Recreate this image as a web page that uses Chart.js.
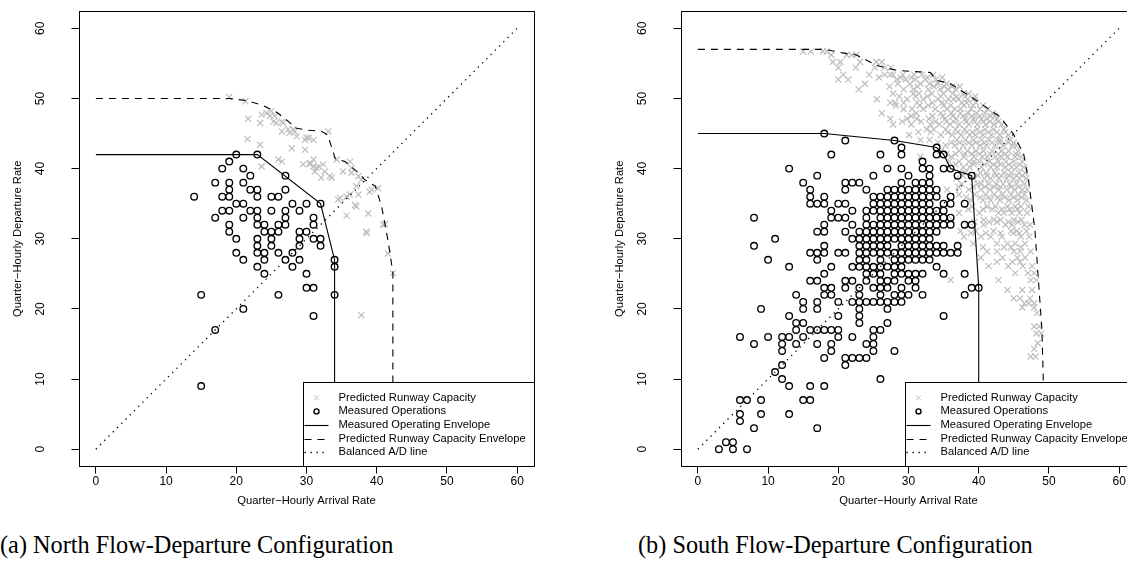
<!DOCTYPE html>
<html><head><meta charset="utf-8">
<script src="https://cdn.jsdelivr.net/npm/chart.js@4.4.1/dist/chart.umd.min.js"></script>
<style>
html,body{margin:0;padding:0;width:1127px;height:580px;overflow:hidden;background:#fff;}
.cv{position:absolute;top:0;}
.cap{position:absolute;top:531px;line-height:28px;font-family:"Liberation Serif","Times New Roman",serif;font-size:24.3px;white-space:nowrap;color:#000;}
</style></head><body>
<canvas id="north" class="cv" width="563" height="520" style="left:0px"></canvas>
<canvas id="south" class="cv" width="563" height="520" style="left:602px"></canvas>
<div class="cap" style="left:0px">(a) North Flow-Departure Configuration</div>
<div class="cap" style="left:638px">(b) South Flow-Departure Configuration</div>
<script>
// ---------- shared axis / legend data ----------
const xTicks = [0, 10, 20, 30, 40, 50, 60];
const yTicks = [0, 10, 20, 30, 40, 50, 60];
const axisMin = -2.4, axisMax = 62.4;
const legendLabels = ['Predicted Runway Capacity', 'Measured Operations', 'Measured Operating Envelope', 'Predicted Runway Capacity Envelope', 'Balanced A/D line'];
const xTitle = 'Quarter\u2212Hourly Arrival Rate';
const yTitle = 'Quarter\u2212Hourly Departure Rate';
const balancedLine = [[0, 0], [60, 60]];

// ---------- (a) North flow ----------
const northEnvelopeMeasured = [[0, 42], [23, 42], [32, 35], [34, 27], [34, 0]];
const northEnvelopePredicted = [[0, 50], [19, 50], [21.5, 49.7], [23.8, 49], [25.8, 48], [27.6, 46.6], [28.3, 45.8], [30, 45.5], [32.2, 45.3], [33, 44.8], [33.6, 43], [34.1, 41.4], [35.5, 41], [37.4, 39.4], [38.3, 38.4], [39.8, 37.5], [40.7, 34.6], [41.6, 29.8], [42.3, 25.2], [42.3, 0]];
// rows: [departures, [arrivals...]]
const northMeasuredRows = [
  [42, [20, 23]], [41, [19]], [40, [18, 21]], [39, [22, 27]], [38, [17, 19, 21]],
  [37, [19, 22, 23, 27]], [36, [14, 18, 19, 23, 25, 26]], [35, [20, 21, 28, 30, 32]],
  [34, [18, 19, 22, 23, 25, 27, 29]], [33, [17, 21, 23, 27, 31]], [32, [19, 23, 24, 26, 27, 31]],
  [31, [19, 24, 25, 26, 29, 30]], [30, [20, 23, 25, 29, 31, 32]], [29, [23, 25, 29, 32]],
  [28, [20, 23, 24, 26, 28]], [27, [21, 24, 27, 29, 34]], [26, [23, 28, 34]], [25, [24, 30]],
  [23, [30, 31]], [22, [15, 26, 34]], [20, [21]], [19, [31]], [17, [17]], [9, [15]]
];
const northPredicted = [[19, 50.2], [21.3, 49.6], [21.7, 47.1], [23.6, 47.7], [24.3, 47.9], [25, 48.2], [24.8, 47.5], [25.5, 47.5], [25.3, 46.7], [23.4, 46.5], [25.7, 46.5], [26.7, 46.5], [26.5, 46.7], [26.5, 45.3], [27.4, 45.6], [27.6, 45.1], [28.1, 45.6], [28.3, 45.3], [28.6, 44.6], [30, 44.4], [30.3, 44.4], [31, 44.1], [29.8, 44.1], [33.1, 45.3], [21.6, 44.2], [23.4, 43.4], [27.9, 42.9], [29.8, 42.7], [26, 41.3], [26.5, 41], [23.6, 40.3], [29.5, 40.6], [30.5, 40.6], [30.5, 40.8], [31, 40.3], [31, 41.3], [31.4, 40.1], [31.7, 40.3], [32.4, 40.6], [32.6, 39.6], [31.2, 39.6], [32.1, 38.7], [33.3, 38.9], [33.6, 38.7], [34.3, 41.3], [35.2, 39.6], [36.2, 41], [36.4, 40.1], [36.4, 39.4], [37.4, 38.9], [37.8, 38.4], [37.1, 37.5], [39.3, 37], [40.2, 37.2], [39, 36.7], [34.5, 35.6], [34.8, 35.8], [35.7, 36], [36.2, 36.3], [37.4, 36.3], [36.9, 34.8], [37.1, 34.6], [35.7, 33.3], [38.8, 33.6], [38.6, 30.8], [38.5, 31], [40.9, 32], [41.2, 32.1], [41.6, 27.9], [42.3, 25.1], [37.8, 19.1]];

// ---------- (b) South flow ----------
const southEnvelopeMeasured = [[0, 45], [18, 45], [28, 44], [34, 43], [35, 42], [36, 40], [39, 39], [40, 23], [40, 0]];
const southEnvelopePredicted = [[0, 57], [18, 57], [21.2, 56.4], [22.6, 56.2], [25.5, 54.7], [28.3, 54], [33.1, 53.7], [34, 52.6], [36, 52.1], [39.7, 49.7], [43, 47.4], [44.9, 45], [46.4, 42.1], [47.1, 38.3], [48, 31.3], [48.5, 24.1], [49, 17], [49.2, 9.8], [49.2, 0]];
const southMeasuredRows = [
  [45, [18]], [44, [21, 28]], [43, [29, 34]], [42, [19, 26, 29, 34, 35]], [41, [32]],
  [40, [13, 27, 29, 32, 33, 35, 36]], [39, [17, 25, 30, 33, 37, 39]],
  [38, [15, 21, 22, 23, 29, 31, 32, 33]],
  [37, [16, 21, 24, 27, 28, 29, 30, 31, 32, 33, 34]],
  [36, [16, 18, 25, 26, 27, 28, 29, 30, 31, 32, 33, 34, 36]],
  [35, [16, 17, 18, 20, 21, 25, 26, 27, 28, 29, 30, 31, 32, 33, 35, 36, 38]],
  [34, [19, 22, 24, 25, 26, 27, 28, 29, 30, 31, 32, 33, 34, 35]],
  [33, [8, 19, 20, 21, 24, 26, 27, 28, 29, 30, 31, 32, 33, 34, 35, 36]],
  [32, [18, 22, 24, 25, 26, 27, 28, 29, 30, 31, 32, 33, 34, 35, 36, 38, 39]],
  [31, [17, 18, 21, 23, 24, 25, 26, 27, 28, 29, 30, 31, 32, 33, 34]],
  [30, [11, 22, 23, 24, 25, 26, 27, 28, 29, 30, 31, 32, 33]],
  [29, [8, 18, 23, 24, 25, 26, 27, 29, 30, 31, 32, 33, 34, 35, 37]],
  [28, [16, 17, 18, 20, 21, 23, 24, 25, 26, 27, 28, 29, 30, 31, 32, 33, 34, 35, 36, 37]],
  [27, [10, 17, 23, 24, 26, 28, 29, 30, 31, 32, 33]],
  [26, [13, 19, 22, 23, 24, 25, 26, 27, 28, 29, 34]],
  [25, [18, 24, 25, 26, 28, 29, 30, 31, 32, 35, 38]],
  [24, [16, 17, 21, 22, 24, 26, 27, 28, 30, 31]],
  [23, [18, 19, 21, 23, 25, 26, 27, 29, 31, 39, 40]],
  [22, [14, 18, 19, 23, 26, 28, 29, 30, 32, 38]],
  [21, [15, 17, 20, 22, 23, 24, 25, 26, 27, 28, 29]],
  [20, [9, 15, 17, 23, 27]], [19, [13, 20, 23, 35]], [18, [14, 15, 23, 27]],
  [17, [14, 16, 17, 18, 19, 20, 25, 26]], [16, [6, 10, 12, 13, 15, 20, 22, 25]],
  [15, [8, 12, 14, 17, 19, 24, 25]], [14, [12, 19, 25, 28]], [13, [18, 21, 22, 23, 24]],
  [12, [12, 21]], [11, [11]], [10, [12, 26]], [9, [13, 16, 18]], [7, [6, 7, 9, 15, 16]],
  [5, [6, 9, 13]], [4, [6]], [3, [8, 17]], [1, [4, 5]], [0, [3, 5, 7]]
];
const southPredictedRows = [
  [56.7, [15, 16.1, 17.8, 18.4]], [56.2, [19, 21.2, 21.9, 22.6]], [55.2, [19.2, 20.3, 23.1, 25.4, 26.2]],
  [54.4, [20, 22.5, 25.2, 26.6, 27.5]], [53.4, [20.7, 24.4, 26.6, 27.4, 27.8, 29.2, 30.8, 31.9, 33.5]],
  [53.0, [25.8, 28.9, 30.4, 32.7, 34.8]],
  [52.7, [20, 21.4, 28.3, 29.6, 31, 32.4, 33.9]], [52.1, [23.8, 28.5, 30.2, 31.7, 33, 34.2, 35.4]],
  [51.7, [27.3, 31.3, 33.6, 35.1, 36.2, 37.3]],
  [51.3, [22.9, 29.3, 30.7, 32.8, 34.5, 35.6, 36.7]], [50.7, [27.8, 30.7, 31.5, 33.3, 35, 36.3, 37.8, 38.6]],
  [50.3, [28.7, 31, 32.7, 34.6, 36.9, 38, 39.5]],
  [49.9, [25.5, 29.8, 32.1, 34.2, 35.7, 36.4, 37.1, 38.4, 39.2]], [49.4, [27.4, 28.1, 29.3, 31.2, 33.4, 34.8, 37.6, 38.3, 39.6]],
  [49.0, [28.2, 31.6, 32.8, 35, 36, 37.9, 39.2, 40.6]],
  [48.5, [29.3, 30.5, 32.1, 33.8, 35.5, 36.6, 37.4, 38.9, 40.2, 41.3]], [47.9, [26.2, 31.1, 34.6, 36.1, 37.4, 38.5, 39.7, 40.9, 42]],
  [47.5, [30.4, 33.4, 34.9, 36.3, 37.8, 39, 40.1, 41.7, 42.3]],
  [47.1, [27.4, 29.8, 31.2, 32.9, 35.2, 36.8, 38.1, 39.3, 40.4, 41.2, 42.6]],
  [46.7, [29.1, 31.8, 33.8, 35.4, 36.4, 38.2, 39.4, 40.6, 41.6, 42.8]],
  [46.3, [27.8, 30.4, 33.1, 34.4, 35.9, 37.2, 38.6, 39.8, 41, 42.2, 43.3]],
  [45.6, [32.6, 33.6, 35.3, 36.7, 38, 39.8, 40.9, 42.1, 43.6]],
  [45.2, [31.4, 33.2, 35.6, 37, 38.3, 39.1, 40.2, 41.4, 42.6, 43.8]],
  [44.8, [30.1, 34.6, 36.2, 37.5, 38.7, 39.5, 40.6, 41.8, 43, 44.2]],
  [44.1, [31.7, 33, 36.9, 38.1, 39.3, 40.4, 41.5, 42.7, 43.1, 44.5]],
  [43.7, [34.2, 36.1, 37.3, 38.6, 39.6, 40.8, 41.9, 43, 44.2, 45]],
  [43.3, [35.3, 36.6, 37.8, 39, 40.2, 41.1, 42.3, 43.5, 44.8, 45.3]],
  [42.5, [34.6, 37.2, 38.4, 39.6, 40.7, 41.9, 43.2, 44.3, 45.6]],
  [42.1, [35.4, 36.7, 38, 39, 40.1, 41.6, 42.8, 43.8, 45.3]],
  [41.7, [31.7, 36.1, 37.9, 39.3, 40.5, 41.2, 42.4, 43.1, 44.1, 45.2, 46]],
  [41, [35.8, 37.2, 38.6, 39.3, 40.1, 41.5, 42.8, 43.9, 45, 46.2]],
  [40.6, [36.7, 39.3, 40.8, 42.1, 43.1, 44.3, 45.8]],
  [40.2, [37.8, 38.7, 40.4, 41.7, 42.6, 43.8, 44.7, 45.4, 46.4]],
  [39.4, [38.1, 40.2, 41.1, 42.3, 43.6, 44.6, 45.7, 46.6]],
  [39, [37.8, 39.9, 41.2, 42.5, 43.2, 44.3, 45.4, 46.2]],
  [38.6, [36.8, 39.3, 40.8, 41.7, 42.9, 44, 45, 45.8, 46.8]],
  [37.8, [37.6, 39.8, 40.3, 41.4, 42.5, 43.5, 44.4, 45.4, 46.5]],
  [37.4, [37.1, 39.2, 40.9, 42.2, 43.1, 44.6, 45.7]],
  [37, [35.5, 38.6, 40.3, 41.6, 42.9, 44, 45.1, 46.2, 46.9]],
  [36.3, [37.2, 39.4, 41, 42.2, 43.4, 44.6, 45.7, 46.5]],
  [35.9, [38.2, 40.2, 41.4, 42.7, 43.7, 45, 46.1]],
  [35.5, [38.9, 40.6, 41.7, 43, 44.3, 45.5, 46.8]],
  [34.6, [39.1, 41.2, 42.4, 44.1, 45.2, 46, 47.1]],
  [34.2, [38.5, 40.6, 41.9, 43.3, 44.4, 45.5]],
  [33.7, [37.2, 40.1, 42.8, 43.6, 44.7, 45.8, 46.9]],
  [32.7, [36.2, 40.7, 42.2, 43.1, 45, 46.1]],
  [32.4, [39.4, 41.5, 42.6, 44.2, 45.6]],
  [32, [38.4, 40.7, 43.8, 44.8, 46.5, 47.3]],
  [31.1, [37.4, 39.6, 42.1, 44.6, 45.4, 46.8]],
  [30.8, [38.9, 41, 43.1, 44.9, 45.8]],
  [30.3, [37.9, 40.3, 41.7, 43.3, 46, 47.2]],
  [29.3, [39.2, 42.6, 44.1, 45.2, 46.6]],
  [28.8, [40.6, 43.6, 44.6, 46]],
  [28.2, [41.2, 42.6, 45, 45.9, 47.4]],
  [27.3, [40.3, 43.4, 45.5, 46.6]],
  [26.7, [42.6, 44.8, 45.9]],
  [26.1, [41.4, 44.2, 46.3, 47.6]],
  [25.1, [45.2, 47, 47.9]],
  [24.1, [36, 42.8, 47.4, 48.2]],
  [22.7, [44.1, 46.2, 47.6]],
  [21.5, [45, 45.9, 47.3]],
  [20.8, [46.5, 47.1, 47.9]],
  [20.2, [46.2, 47.9]],
  [19.4, [48.3]],
  [17.5, [47.9, 48.6]],
  [16.5, [48.9, 48.2]],
  [15.1, [48.4]],
  [14.3, [47.9]],
  [13.2, [48.1, 47.4]]
];

// ---------- helpers ----------
const fromRows = rows => rows.flatMap(([y, xs]) => xs.map(x => ({x: x, y: y})));
const fromPairs = ps => ps.map(([x, y]) => ({x: x, y: y}));
const FONT_SIZE = 11.2;
const TICK_FONT_SIZE = 12;
const FONT_FAMILY = '"Liberation Sans", Arial, Helvetica, sans-serif';
Chart.defaults.font.family = FONT_FAMILY;
Chart.defaults.font.size = FONT_SIZE;
Chart.defaults.color = '#000';

function buildDatasets(pred, meas, envM, envP) {
  return [
    {label: legendLabels[0], data: pred, showLine: false, pointStyle: 'crossRot', pointRadius: 4.3, pointBorderWidth: 1.2, borderColor: '#BEBEBE', backgroundColor: '#BEBEBE', legendRadius: 3.3, order: 5},
    {label: legendLabels[1], data: meas, showLine: false, pointStyle: 'circle', pointRadius: 3.3, pointBorderWidth: 1.35, borderColor: '#000', backgroundColor: 'rgba(0,0,0,0)', legendRadius: 2.5, order: 4},
    {label: legendLabels[2], data: envM, showLine: true, pointRadius: 0, borderColor: '#000', borderWidth: 1.1, borderDash: [], tension: 0, order: 3},
    {label: legendLabels[3], data: envP, showLine: true, pointRadius: 0, borderColor: '#000', borderWidth: 1.1, borderDash: [7, 6], tension: 0, order: 2},
    {label: legendLabels[4], data: fromPairs(balancedLine), showLine: true, pointRadius: 0, borderColor: '#000', borderWidth: 1.3, borderDash: [1.3, 4.7], tension: 0, order: 1}
  ];
}

function scaleOpts(axis) {
  const o = {
    type: 'linear', min: axisMin, max: axisMax,
    afterBuildTicks: s => { s.ticks = (axis === 'x' ? xTicks : yTicks).map(v => ({value: v})); },
    grid: {display: true, drawOnChartArea: false, drawTicks: true, tickLength: 7.5, color: '#000', lineWidth: 1},
    border: {display: false},
    ticks: {color: '#000', font: {size: TICK_FONT_SIZE}, autoSkip: false, callback: v => String(v)},
    title: {display: true, text: axis === 'x' ? xTitle : yTitle, color: '#000', font: {size: FONT_SIZE}}
  };
  if (axis === 'x') {
    o.ticks.padding = 1; o.ticks.maxRotation = 0; o.ticks.minRotation = 0;
    o.title.padding = {top: 0, bottom: 12.3};
    o.afterFit = s => { s.height = 54; s.paddingLeft = 0; s.paddingRight = 0; };
  } else {
    o.ticks.padding = 24; o.ticks.minRotation = 90; o.ticks.maxRotation = 90; o.ticks.crossAlign = 'center';
    o.title.padding = {top: 10.8, bottom: 0};
    o.afterFit = s => { s.width = 79; s.paddingTop = 0; s.paddingBottom = 0; };
  }
  return o;
}

const boxPlugin = {
  id: 'rbox',
  afterDatasetsDraw(chart) {
    const {ctx, chartArea: a} = chart;
    ctx.save();
    ctx.strokeStyle = '#000'; ctx.lineWidth = 1; ctx.setLineDash([]);
    const l = Math.floor(a.left) + 0.5, t = Math.floor(a.top) + 0.5;
    const r = Math.floor(a.right) + 0.5, b = Math.floor(a.bottom) + 0.5;
    ctx.strokeRect(l, t, r - l, b - t);
    ctx.restore();
  }
};

const legendPlugin = {
  id: 'rlegend',
  afterDraw(chart) {
    const {ctx, chartArea: a} = chart;
    const ds = chart.data.datasets;
    ctx.save();
    ctx.font = FONT_SIZE + 'px ' + FONT_FAMILY;
    let tw = 0;
    ds.forEach(d => { tw = Math.max(tw, ctx.measureText(d.label).width); });
    const rowH = 13.6;
    const w = 35 + tw + 8;
    const h = 15.3 + (ds.length - 1) * rowH + 13.4;
    const x0 = Math.floor(a.right - w) + 0.5, y0 = Math.floor(a.bottom - h) + 0.5;
    ctx.fillStyle = '#fff';
    ctx.fillRect(x0, y0, a.right - x0, a.bottom - y0);
    ctx.strokeStyle = '#000'; ctx.lineWidth = 1; ctx.setLineDash([]);
    ctx.strokeRect(x0, y0, Math.floor(a.right) + 0.5 - x0, Math.floor(a.bottom) + 0.5 - y0);
    ds.forEach((d, i) => {
      const cy = y0 + 15.3 + i * rowH;
      const sx = x0 + 13;
      ctx.save();
      ctx.strokeStyle = d.borderColor;
      if (d.showLine) {
        ctx.lineWidth = d.borderWidth; ctx.setLineDash(d.borderDash || []);
        ctx.beginPath(); ctx.moveTo(x0 + 1, Math.round(cy) + 0.5); ctx.lineTo(x0 + 25, Math.round(cy) + 0.5); ctx.stroke();
      } else if (d.pointStyle === 'circle') {
        ctx.lineWidth = 1.4;
        ctx.beginPath(); ctx.arc(sx, cy, d.legendRadius, 0, Math.PI * 2); ctx.stroke();
      } else {
        const r = d.legendRadius * Math.SQRT1_2;
        ctx.lineWidth = 1;
        ctx.beginPath();
        ctx.moveTo(sx - r, cy - r); ctx.lineTo(sx + r, cy + r);
        ctx.moveTo(sx - r, cy + r); ctx.lineTo(sx + r, cy - r);
        ctx.stroke();
      }
      ctx.restore();
      ctx.fillStyle = '#000'; ctx.textAlign = 'left'; ctx.textBaseline = 'middle';
      ctx.fillText(d.label, x0 + 35, cy);
    });
    ctx.restore();
  }
};

function makeChart(id, pred, meas, envM, envP) {
  return new Chart(document.getElementById(id), {
    type: 'scatter',
    data: {datasets: buildDatasets(pred, meas, envM, envP)},
    options: {
      responsive: false, animation: false, events: [],
      layout: {padding: {left: 0, top: 11.5, right: 29, bottom: 0}},
      plugins: {legend: {display: false}, tooltip: {enabled: false}},
      scales: {x: scaleOpts('x'), y: scaleOpts('y')}
    },
    plugins: [boxPlugin, legendPlugin]
  });
}

makeChart('north', fromPairs(northPredicted), fromRows(northMeasuredRows), fromPairs(northEnvelopeMeasured), fromPairs(northEnvelopePredicted));
makeChart('south', fromRows(southPredictedRows), fromRows(southMeasuredRows), fromPairs(southEnvelopeMeasured), fromPairs(southEnvelopePredicted));
</script>
</body></html>
